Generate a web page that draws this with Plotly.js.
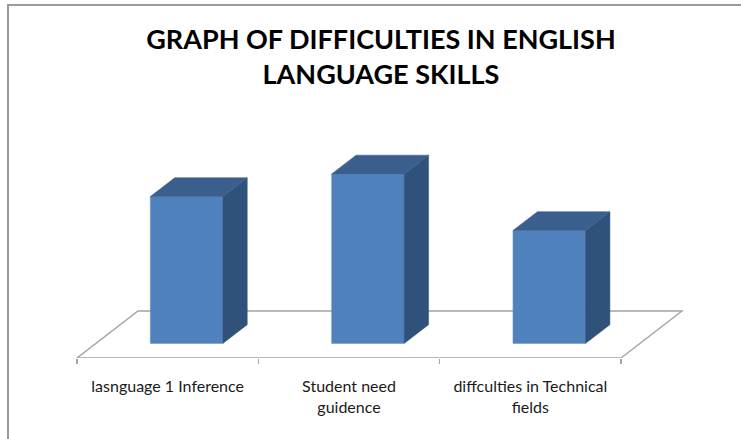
<!DOCTYPE html>
<html>
<head>
<meta charset="utf-8">
<script src="https://cdn.plot.ly/plotly-3.0.1.min.js"></script>
<style>html,body{margin:0;padding:0;background:#fff;}#chart{width:741px;height:439px;}</style>
</head>
<body>
<div id="chart"></div>
<script>
// ---- data ----
const categories = ["lasnguage 1 Inference", "Student need<br>guidence", "diffculties in Technical<br>fields"];
const values = [13, 15, 10];
const chartTitle = "GRAPH OF DIFFICULTIES IN ENGLISH<br>LANGUAGE SKILLS";

// ---- pseudo-3D projection (in axis units) ----
const W = 741, H = 439;
const pxPerX = 544 / 3;            // horizontal px per category
const pxPerY = 11.3;               // px per value unit
const floorFrontPx = 358;
const depthX = 61 / pxPerX;        // full floor depth, x component
const depthY = 47 / pxPerY;        // full floor depth, y component
const dFront = 0.31, dBack = 0.71; // bar position in depth
const barW = 0.4;

const xMin = -0.5 - 77 / pxPerX;
const xMax = xMin + W / pxPerX;
const yMax = floorFrontPx / pxPerY;

const cFront = '#4F81BD', cTop = '#3B5F8C', cSide = '#30527A', cGrid = '#A3A3A3';

const traces = [];
const base = dFront * depthY;
const ddx = (dBack - dFront) * depthX;
const ddy = (dBack - dFront) * depthY;
values.forEach((v, i) => {
  const xl = i + dFront * depthX - barW / 2;
  const xr = xl + barW;
  const top = base + v;
  traces.push({
    type: 'scatter', mode: 'lines', hoverinfo: 'skip', showlegend: false,
    x: [xr, xr, xr + ddx, xr + ddx, xr], y: [base, top, top + ddy, base + ddy, base],
    fill: 'toself', fillcolor: cSide, line: {color: cSide, width: 0.5}
  });
  traces.push({
    type: 'scatter', mode: 'lines', hoverinfo: 'skip', showlegend: false,
    x: [xl, xr, xr + ddx, xl + ddx, xl], y: [top, top, top + ddy, top + ddy, top],
    fill: 'toself', fillcolor: cTop, line: {color: cTop, width: 0.5}
  });
});
traces.push({
  type: 'bar', showlegend: false, hoverinfo: 'skip',
  x: values.map((v, i) => i + dFront * depthX),
  y: values, base: values.map(() => base), width: barW,
  marker: {color: cFront, line: {color: '#6E95C8', width: 0.6}}
});
// dummy trace for xaxis2 ticks
traces.push({type: 'scatter', x: [0], y: [0], xaxis: 'x2', mode: 'none', showlegend: false, hoverinfo: 'skip'});

const floorPath = 'M -0.5,0 L 2.5,0 L ' + (2.5 + depthX) + ',' + depthY + ' L ' + (-0.5 + depthX) + ',' + depthY + ' Z';
const frameY = (floorFrontPx - 5) / floorFrontPx;

const layout = {
  width: W, height: H,
  margin: {l: 0, r: 0, t: 0, b: H - floorFrontPx, pad: 0},
  paper_bgcolor: '#fff', plot_bgcolor: 'rgba(0,0,0,0)',
  font: {family: 'Lato, Carlito, sans-serif', color: '#000'},
  title: {text: chartTitle, font: {family: 'Lato, Carlito, sans-serif', size: 27, weight: 'bold', color: '#000'},
          x: 381 / W, xanchor: 'center', y: 1 - 49 / H, yanchor: 'top', yref: 'container'},
  xaxis: {range: [xMin, xMax], showgrid: false, zeroline: false, showline: false,
          tickvals: [0, 1, 2], ticktext: categories, ticks: '', ticklabelstandoff: 17,
          tickfont: {size: 16, color: '#1a1a1a'}, fixedrange: true},
  xaxis2: {overlaying: 'x', anchor: 'y', side: 'bottom', range: [xMin, xMax], showgrid: false, zeroline: false,
           showline: false, tickvals: [-0.5, 0.5, 1.5, 2.5], ticks: 'outside', ticklen: 5, tickwidth: 1.3,
           tickcolor: cGrid, showticklabels: false},
  yaxis: {range: [0, yMax], visible: false, fixedrange: true},
  bargap: 0,
  shapes: [
    {type: 'path', xref: 'x', yref: 'y', layer: 'below', path: floorPath, line: {color: cGrid, width: 1.4}},
    {type: 'path', xref: 'paper', yref: 'paper',
     path: 'M ' + (8 / W) + ',-0.3 L ' + (8 / W) + ',' + frameY + ' L 1.02,' + frameY,
     line: {color: '#9A9A9A', width: 2}}]
};

Plotly.newPlot('chart', traces, layout, {displayModeBar: false, staticPlot: true});
</script>
</body>
</html>
